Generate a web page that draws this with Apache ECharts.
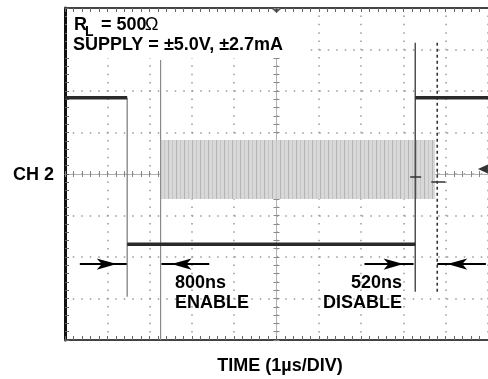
<!DOCTYPE html>
<html><head><meta charset="utf-8">
<script src="https://cdn.jsdelivr.net/npm/echarts@6/dist/echarts.min.js"></script>
<style>html,body{margin:0;padding:0;background:#fff}#c{width:488px;height:379px}</style>
</head><body><div id="c"></div>
<script>
// ---- data (horizontal: divisions of 1 µs from screen centre; vertical: divisions) ----
const enableTimes = [-5, -3.53, 3.28, 5];
const enableLevels = [1.84, -1.69, 1.84];
const burstTimes = [-2.74, 3.75];
const burstEnvelope = [-0.60, 0.82];
const cursorX = [-3.53, -2.74, 3.28, 3.80];
const cursorTop = [1.84, 2.75, 3.16, 3.16];
const cursorBottom = [-2.96, -4, -2.84, -2.84];
const markStartX = [3.16, 3.66];
const markEndX = [3.42, 3.99];
const markY = [-0.07, -0.19];
const arrowY = -2.17;
const arrowFrom = [-4.65, -1.59, 2.08, 4.95];
const arrowTo = [-3.54, -2.72, 3.24, 3.80];
const ch2Marker = [4.88, 0.12];
const triggerMarker = [0, 3.93];

// ---- styles ----
const cursorStyles = [
  {color:'#777', width:1.2, type:'solid'},
  {color:'#8a8a8a', width:1.2, type:'solid'},
  {color:'#444', width:1.4, type:'solid'},
  {color:'#333', width:1.6, type:[3,3]}
];
const FONT = '"Liberation Sans", Arial, sans-serif';

const chart = echarts.init(document.getElementById('c'), null, {renderer:'canvas'});

const pat = document.createElement('canvas');
pat.width = 8; pat.height = 6;
const g = pat.getContext('2d');
g.fillStyle = '#d8d8d8'; g.fillRect(0,0,8,6);
g.fillStyle = '#b4b4b4'; g.fillRect(0,0,1,6);
g.fillStyle = '#c6c6c6'; g.fillRect(4,0,1,6);

function borderAxis(pos, extra) {
  return Object.assign({
    type:'value', min:-5, max:5, interval:1, position:pos,
    axisLine:{show:true, onZero:false, lineStyle:{color:'#444', width:2}},
    axisTick:{show:true, inside:true, length:4, lineStyle:{color:'#666'}},
    minorTick:{show:true, splitNumber:5, length:4, lineStyle:{color:'#666'}},
    axisLabel:{show:false}, splitLine:{show:false}
  }, extra || {});
}
function centreAxis(pos, showLine, extra) {
  return Object.assign({
    type:'value', min:-5, max:5, interval:1, position:pos,
    axisLine:{show:showLine, onZero:true, onZeroAxisIndex:0, lineStyle:{color:'#b0b0b0', width:1}},
    axisTick:{show:true, inside:true, length:3, lineStyle:{color:'#888'}},
    minorTick:{show:true, splitNumber:5, length:3, lineStyle:{color:'#888'}},
    axisLabel:{show:false}, splitLine:{show:false}
  }, extra || {});
}

const series = [];
series.push({
  type:'custom', z:2,
  data:[[burstTimes[0], burstTimes[1], burstEnvelope[0], burstEnvelope[1]]],
  renderItem: function(params, api) {
    const p0 = api.coord([api.value(0), api.value(3)]);
    const p1 = api.coord([api.value(1), api.value(2)]);
    return {type:'rect', shape:{x:p0[0], y:p0[1], width:p1[0]-p0[0], height:p1[1]-p0[1]},
            style:{fill:{image:pat, repeat:'repeat'}, stroke:null}};
  }
});
enableLevels.forEach(function(lvl, i) {
  const s = {
    type:'line', z:4, symbol:'none', silent:true,
    data:[[enableTimes[i], lvl], [enableTimes[i+1], lvl]],
    lineStyle:{color:'#2a2a2a', width:3.5}
  };
  if (i === 0) {
    s.markLine = {
      silent:true, symbol:['none','arrow'], label:{show:false},
      lineStyle:{color:'#000', width:2, type:'solid'},
      data: arrowFrom.map(function(f, k) {
        return [{coord:[f, arrowY], symbol:'none'},
                {coord:[arrowTo[k], arrowY], symbol:'arrow', symbolSize:[8.5, 20], symbolOffset:[0, 10]}];
      })
    };
  }
  series.push(s);
});
cursorX.forEach(function(x, i) {
  series.push({type:'line', z:3, symbol:'none', silent:true,
    data:[[x, cursorTop[i]], [x, cursorBottom[i]]], lineStyle:cursorStyles[i]});
});
markStartX.forEach(function(x, i) {
  series.push({type:'line', z:5, symbol:'none', silent:true,
    data:[[x, markY[i]], [markEndX[i], markY[i]]], lineStyle:{color:'#333', width:1.5}});
});
series.push({type:'scatter', z:6, silent:true, symbol:'triangle', symbolSize:[9,10], symbolRotate:90,
  data:[ch2Marker], itemStyle:{color:'#000'}});
series.push({type:'scatter', z:6, silent:true, symbol:'triangle', symbolSize:[9,4], symbolRotate:180,
  data:[triggerMarker], itemStyle:{color:'#333'}});

function txt(text, x, y, align, size, weight) {
  return {type:'text', x:x, y:y, z:101,
    style:{text:text, font:(weight||'bold')+' '+(size||18)+'px '+FONT, fill:'#000',
           textAlign:align||'left', textVerticalAlign:'middle', verticalAlign:'middle'}};
}

chart.setOption({
  animation:false,
  grid:{left:65, top:8, width:425, height:332},
  xAxis:[
    borderAxis('bottom', {splitLine:{show:true, lineStyle:{color:'#999', width:1.5, type:[1.5,6.8], dashOffset:0.75}}}),
    borderAxis('top'),
    centreAxis('bottom', true),
    centreAxis('top', false)
  ],
  yAxis:[
    borderAxis('left', {min:-4, max:4,
      axisLine:{show:true, onZero:false, lineStyle:{color:'#111', width:3}},
      splitLine:{show:true, lineStyle:{color:'#999', width:1.5, type:[1.5,7.0], dashOffset:0.75}}}),
    centreAxis('left', true, {min:-4, max:4}),
    centreAxis('right', false, {min:-4, max:4})
  ],
  series: series,
  graphic:[
    {type:'rect', z:100, shape:{x:67, y:13, width:240, height:45}, style:{fill:'#fff'}},
    txt('R', 74, 25),
    txt('L', 85, 32, 'left', 14),
    txt('= 500', 101, 25),
    txt('Ω', 145, 25, 'left', 18, 'normal'),
    txt('SUPPLY = ±5.0V, ±2.7mA', 73, 45.5),
    txt('CH 2', 13, 175),
    txt('800ns', 175, 283.5),
    txt('ENABLE', 175, 303.5),
    txt('520ns', 402, 283.5, 'right'),
    txt('DISABLE', 402, 303.5, 'right'),
    txt('TIME (1µs/DIV)', 280, 366, 'center')
  ]
});
</script></body></html>
